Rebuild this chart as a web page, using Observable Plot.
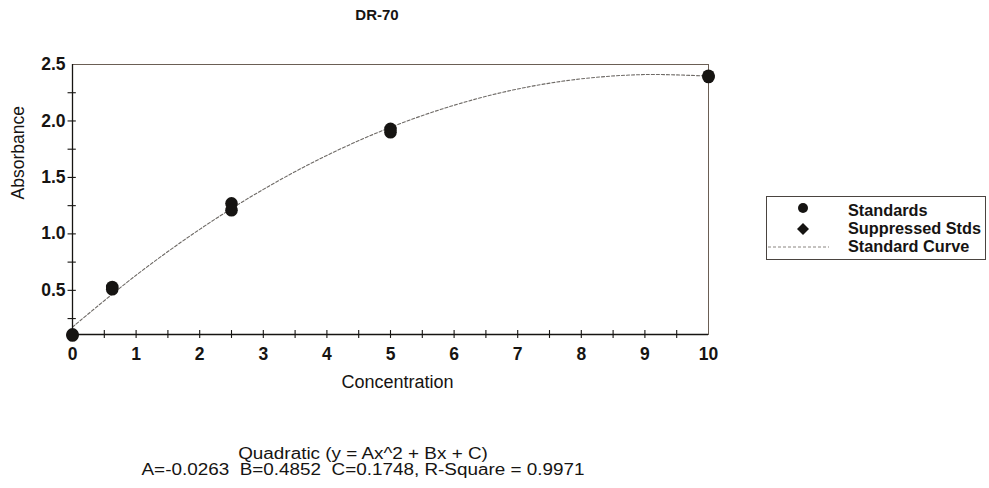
<!DOCTYPE html>
<html>
<head>
<meta charset="utf-8">
<script src="https://cdn.jsdelivr.net/npm/d3@7"></script>
<script src="https://cdn.jsdelivr.net/npm/@observablehq/plot@0.6"></script>
<style>
  html, body { margin: 0; padding: 0; background: #fff; }
  body { width: 989px; height: 488px; overflow: hidden; font-family: "Liberation Sans", Arial, sans-serif; color: #161412; }
  #wrap { position: relative; width: 989px; height: 488px; }
  #chart { position: absolute; left: 0; top: 0; }
  .title { position: absolute; left: 277px; width: 200px; top: 6px; text-align: center; font-weight: bold; font-size: 15px; }
  .caption { position: absolute; left: 63px; width: 600px; top: 446px; text-align: center; font-size: 16px; line-height: 15.5px; transform: scaleX(1.18); transform-origin: 300px 0; }
  #chart svg [aria-label="y-axis tick label"] text,
  #chart svg [aria-label="x-axis tick label"] text { font-weight: bold; }
  #legend { position: absolute; left: 766px; top: 196px; }
</style>
</head>
<body>
<div id="wrap">
  <div id="chart"></div>
  <div class="title" id="title"></div>
  <div id="legend"></div>
  <div class="caption" id="caption"></div>
</div>
<script>
// ---- Data ----
const title = "DR-70";
const xLabel = "Concentration";
const yLabel = "Absorbance";
const captionLines = ["Quadratic (y = Ax^2 + Bx + C)", "A=-0.0263\u00a0\u00a0B=0.4852\u00a0\u00a0C=0.1748, R-Square = 0.9971"];
const legendLabels = ["Standards", "Suppressed Stds", "Standard Curve"];

const stdX = [0, 0, 0.625, 0.625, 2.5, 2.5, 5, 5, 10, 10];
const stdY = [0.10, 0.11, 0.53, 0.51, 1.27, 1.21, 1.93, 1.90, 2.40, 2.39];

const curveX = [0, 1, 2, 3, 4, 5, 6, 7, 8, 9, 10];
const curveY = [0.175, 0.634, 1.040, 1.394, 1.695, 1.943, 2.139, 2.283, 2.373, 2.411, 2.397];

const xTickLabels = [0, 1, 2, 3, 4, 5, 6, 7, 8, 9, 10];
const xMinorTicks = [0.5, 1, 1.5, 2, 2.5, 3, 3.5, 4, 4.5, 5, 5.5, 6, 6.5, 7, 7.5, 8, 8.5, 9, 9.5];
const yTickLabels = [0.5, 1.0, 1.5, 2.0, 2.5];
const yMinorTicks = [0.25, 0.5, 0.75, 1.0, 1.25, 1.5, 1.75, 2.0, 2.25];

const xDomain = [0, 10];
const yDomain = [0.109, 2.5];

// ---- Build tables ----
const standards = stdX.map((x, i) => ({x, y: stdY[i]}));
const curve = curveX.map((x, i) => ({x, y: curveY[i]}));

const ink = "#161412";
const yLo = yDomain[0];

const plot = Plot.plot({
  width: 989,
  height: 488,
  marginLeft: 72,
  marginRight: 281,
  marginTop: 64,
  marginBottom: 154,
  style: {fontFamily: "'Liberation Sans', Arial, sans-serif", fontSize: "17.5px", color: ink, background: "#fff"},
  x: {domain: xDomain},
  y: {domain: yDomain},
  marks: [
    Plot.frame({stroke: "#6b5f55", strokeWidth: 1}),
    Plot.line(curve, {x: "x", y: "y", curve: "catmull-rom", stroke: "#6e6a66", strokeWidth: 1.1, strokeDasharray: "3,2"}),
    Plot.ruleY([yLo], {stroke: ink, strokeWidth: 1.3}),
    Plot.ruleX([0], {stroke: ink, strokeWidth: 1.3}),
    Plot.ruleX(xMinorTicks, {x: d => d, y1: yLo - 0.035, y2: yLo + 0.035, stroke: ink, strokeWidth: 1.1}),
    Plot.ruleY(yMinorTicks, {y: d => d, x1: -0.07, x2: 0.06, stroke: ink, strokeWidth: 1.1}),
    Plot.axisX({ticks: xTickLabels, tickSize: 0, tickPadding: 13, tickFormat: d3.format("d"), label: null, fill: ink}),
    Plot.axisY({ticks: yTickLabels, tickSize: 0, tickPadding: 7, tickFormat: d3.format(".1f"), label: null, fill: ink}),
    Plot.text([xLabel], {frameAnchor: "bottom", dx: 7, dy: 53, text: d => d, fontSize: 18, fill: ink}),
    Plot.text([yLabel], {frameAnchor: "left", dx: -54, rotate: -90, text: d => d, fontSize: 17.5, fill: ink}),
    Plot.dot(standards, {x: "x", y: "y", r: 6.3, fill: ink, stroke: "none"})
  ]
});
document.getElementById("chart").appendChild(plot);

document.getElementById("title").textContent = title;
document.getElementById("caption").innerHTML = captionLines.map(s => `<div>${s}</div>`).join("");

// legend
const lg = d3.select("#legend").append("svg").attr("width", 221).attr("height", 66);
lg.append("rect").attr("x", 0.5).attr("y", 0.5).attr("width", 219).attr("height", 63)
  .attr("fill", "#fff").attr("stroke", "#4a4440").attr("stroke-width", 1);
lg.append("circle").attr("cx", 37).attr("cy", 12).attr("r", 5).attr("fill", ink);
lg.append("path").attr("d", "M37,27 L43,33 L37,39 L31,33 Z").attr("fill", ink);
lg.append("line").attr("x1", 2).attr("x2", 63).attr("y1", 51).attr("y2", 51)
  .attr("stroke", "#8a8580").attr("stroke-width", 1).attr("stroke-dasharray", "3,2");
lg.selectAll("text.l").data(legendLabels).join("text")
  .attr("x", 82).attr("y", (d, i) => 20 + i * 18)
  .attr("font-family", "'Liberation Sans', Arial, sans-serif")
  .attr("font-weight", "bold").attr("font-size", 16.3).attr("fill", ink)
  .text(d => d);
</script>
</body>
</html>
